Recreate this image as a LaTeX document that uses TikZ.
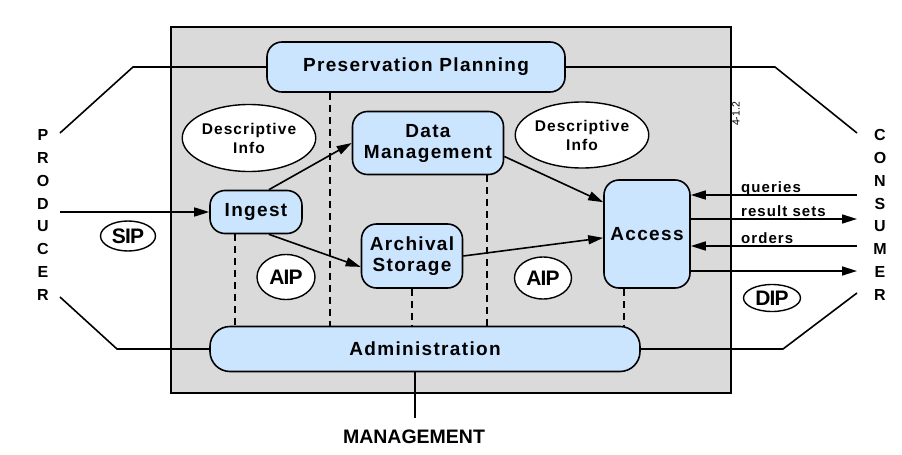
\documentclass[tikz,border=0pt]{standalone}
\usepackage{fontspec}
\setmainfont{Liberation Sans}
\newfontfamily\wideface[LetterSpace=7]{Liberation Sans}
\newfontfamily\tightface[LetterSpace=-4]{Liberation Sans}
\usetikzlibrary{arrows.meta, shapes.geometric}
\definecolor{oais-blue}{RGB}{204,229,255}
\definecolor{oais-grey}{RGB}{218,218,218}

\begin{document}
\begin{tikzpicture}[
  x=1pt, y=-1pt,
  >={Triangle[length=15pt, width=9pt]},
  func/.style={draw, line width=1.6pt, fill=oais-blue, rounded corners=15pt,
               inner sep=0pt, align=center,
               font=\wideface\bfseries\fontsize{19}{21}\selectfont},
  info/.style={draw, ellipse, line width=1.4pt, fill=white, inner sep=0pt,
               align=center, font=\wideface\bfseries\fontsize{15.5}{19}\selectfont},
  pkg/.style={draw, ellipse, line width=1.4pt, fill=white, inner sep=0pt,
              font=\tightface\bfseries\fontsize{21}{21}\selectfont},
  side/.style={align=center, inner sep=0pt, font=\bfseries\fontsize{16}{22.8}\selectfont},
  flowlabel/.style={anchor=base west, inner sep=0pt,
                    font=\wideface\bfseries\fontsize{15}{15}\selectfont},
  link/.style={line width=1.6pt},
  arrow/.style={->, line width=1.6pt},
  dashline/.style={line width=1.4pt, dash pattern=on 7pt off 5pt},
]
\useasboundingbox (0,0) rectangle (902,455);

% OAIS frame
\node[draw, line width=1.6pt, fill=oais-grey, minimum width=560pt,
      minimum height=366pt, inner sep=0pt] (frame) at (451,210) {};
\node[rotate=90, inner sep=0pt, font=\fontsize{10.5}{10.5}\selectfont] (ref) at (736,114) {4-1.2};

% functional entities
\node[func, minimum width=298pt, minimum height=50pt] (pp)  at (416,67)  {Preservation Planning};
\node[func, minimum width=151pt, minimum height=63pt] (dm)  at (428,143) {Data\\Management};
\node[func, minimum width=92pt,  minimum height=43pt] (ing) at (256,212) {Ingest};
\node[func, minimum width=101pt, minimum height=64pt] (as)  at (412,256) {Archival\\Storage};
\node[func, minimum width=86pt,  minimum height=108pt] (acc) at (647,234) {Access};
\node[func, minimum width=430pt, minimum height=45pt, rounded corners=20pt]
      (adm) at (425,349) {Administration};

% information packages
\node[info, minimum width=118pt, minimum height=67pt] (di1)  at (249,138) {Descriptive\\Info};
\node[info, minimum width=118pt, minimum height=66pt] (di2)  at (582,135) {Descriptive\\Info};
\node[pkg,  minimum width=55pt,  minimum height=30pt] (sip)  at (128,236) {SIP};
\node[pkg,  minimum width=58pt,  minimum height=45pt] (aip1) at (286,277) {AIP};
\node[pkg,  minimum width=57pt,  minimum height=42pt] (aip2) at (543,278) {AIP};
\node[pkg,  minimum width=57pt,  minimum height=27pt] (dip)  at (772,298) {DIP};

% outside roles
\node[side] (prod) at (43,215)  {P\\R\\O\\D\\U\\C\\E\\R};
\node[side] (cons) at (880,215) {C\\O\\N\\S\\U\\M\\E\\R};
\node[font=\bfseries\fontsize{19.5}{20}\selectfont, inner sep=0pt] (mgmt) at (414,437) {MANAGEMENT};

\coordinate (p1) at (133,67);
\coordinate (p2) at (60,133);
\coordinate (p3) at (60,212);
\coordinate (p4) at (60,297);
\coordinate (p5) at (117,349);
\coordinate (c1) at (775,67);
\coordinate (c2) at (857,133);
\coordinate (c3) at (857,195);
\coordinate (c4) at (857,219);
\coordinate (c5) at (857,246);
\coordinate (c6) at (857,271);
\coordinate (c7) at (857,293);
\coordinate (c8) at (783,349);
\coordinate (m1) at (415,418);

% producer / consumer / management
\draw[link] (pp.west) -- (p1) -- (p2);
\draw[arrow] (p3) -- (ing.west);
\draw[link] (adm.west) -- (p5) -- (p4);
\draw[link] (pp.east) -- (c1) -- (c2);
\draw[link] (adm.east) -- (c8) -- (c7);
\draw[link] (m1 |- adm.south) -- (m1);

\draw[arrow] (c3) -- (c3 -| acc.east);
\draw[arrow] (c4 -| acc.east) -- (c4);
\draw[arrow] (c5) -- (c5 -| acc.east);
\draw[arrow] (c6 -| acc.east) -- (c6);
\node[flowlabel] (lq) at (741,192)   {queries};
\node[flowlabel] (lr) at (741,216.5) {result sets};
\node[flowlabel] (lo) at (741,243)   {orders};

% internal flows
\draw[arrow] (ing.60) -- (dm.west);
\draw[arrow] (ing.300) -- (as.192);
\draw[arrow] (dm.350) -- (acc.144);
\draw[arrow] (as.east) -- (acc.185);

% links to administration / planning
\coordinate (d1) at (330,0);
\coordinate (d2) at (235,0);
\coordinate (d3) at (487,0);
\coordinate (d4) at (624,0);
\draw[dashline] (pp.south -| d1) -- (adm.north -| d1);
\draw[dashline] (ing.south -| d2) -- (adm.north -| d2);
\draw[dashline] (as.south) -- (adm.north -| as.south);
\draw[dashline] (dm.south -| d3) -- (adm.north -| d3);
\draw[dashline] (acc.south -| d4) -- (adm.north -| d4);
\end{tikzpicture}
\end{document}
